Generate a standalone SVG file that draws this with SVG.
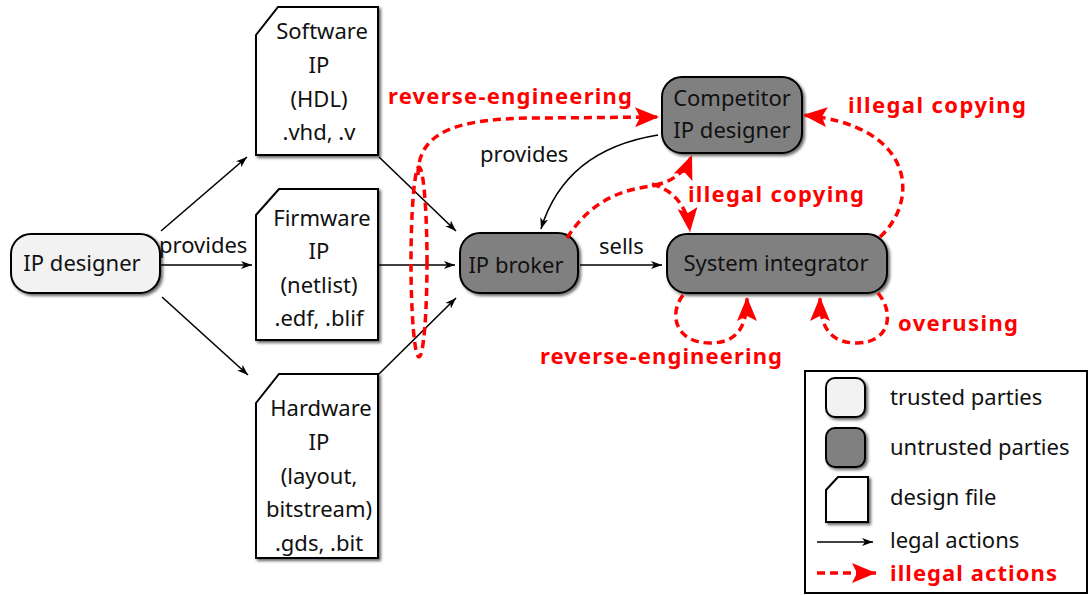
<svg xmlns="http://www.w3.org/2000/svg" width="1090" height="595" viewBox="0 0 1090 595">
<defs>
<filter id="sh" x="-20%" y="-20%" width="140%" height="140%">
<feDropShadow dx="2" dy="2" stdDeviation="1.5" flood-color="#000" flood-opacity="0.6"/>
</filter>
<marker id="ab" markerWidth="12" markerHeight="10" refX="11" refY="5" orient="auto" markerUnits="userSpaceOnUse"><path d="M0,1 L11,5 L0,9 L3,5 z" fill="#000"/></marker>
<marker id="ar" markerWidth="26" markerHeight="20" refX="24" refY="10" orient="auto" markerUnits="userSpaceOnUse"><path d="M0,0 L24,10 L0,20 L5,10 z" fill="#ff0000"/></marker>
</defs>
<style>
.t{font-family:"Noto Sans","DejaVu Sans",sans-serif;font-size:22px;fill:#111;text-anchor:middle}
.l{font-family:"Noto Sans","DejaVu Sans",sans-serif;font-size:22px;fill:#111}
.r{font-family:"Noto Sans","DejaVu Sans",sans-serif;font-size:22px;font-weight:bold;fill:#ff0000}
.trusted{fill:#f2f2f2;stroke:#000;stroke-width:2;filter:url(#sh)}
.untrusted{fill:#808080;stroke:#000;stroke-width:2;filter:url(#sh)}
.file{fill:#fff;stroke:#000;stroke-width:2;filter:url(#sh)}
.leg{fill:none;stroke:#000;stroke-width:1.6;marker-end:url(#ab)}
.ill{fill:none;stroke:#ff0000;stroke-width:3.5;stroke-dasharray:8,5}
.illa{fill:none;stroke:#ff0000;stroke-width:3.5;stroke-dasharray:8,5;marker-end:url(#ar)}
</style>
<rect width="1090" height="595" fill="#fff"/>

<g id="ip-designer">
<rect class="trusted" x="11" y="234" width="149" height="59" rx="20"/>
<text class="t" x="82" y="271">IP designer</text>
</g>
<g id="software-ip">
<path class="file" d="M278,7 L378,7 L378,155 L256,155 L256,35 Z"/>
<text class="t" x="322" y="39">Software</text>
<text class="t" x="319" y="73">IP</text>
<text class="t" x="319" y="107">(HDL)</text>
<text class="t" x="319" y="140">.vhd, .v</text>
</g>
<g id="firmware-ip">
<path class="file" d="M279,189 L378,189 L378,340 L256,340 L256,215 Z"/>
<text class="t" x="322" y="226">Firmware</text>
<text class="t" x="319" y="259">IP</text>
<text class="t" x="319" y="293">(netlist)</text>
<text class="t" x="319" y="326">.edf, .blif</text>
</g>
<g id="hardware-ip">
<path class="file" d="M279,374 L378,374 L378,558 L256,558 L256,403 Z"/>
<text class="t" x="321" y="416">Hardware</text>
<text class="t" x="319" y="450">IP</text>
<text class="t" x="319" y="484">(layout,</text>
<text class="t" x="319" y="517">bitstream)</text>
<text class="t" x="319" y="551">.gds, .bit</text>
</g>
<g id="ip-broker">
<rect class="untrusted" x="460" y="233" width="118" height="60" rx="20"/>
<text class="t" x="516" y="273">IP broker</text>
</g>
<g id="competitor">
<rect class="untrusted" x="662" y="77" width="140" height="76" rx="20"/>
<text class="t" x="732" y="106">Competitor</text>
<text class="t" x="732" y="138">IP designer</text>
</g>
<g id="system-integrator">
<rect class="untrusted" x="667" y="234" width="220" height="59" rx="20"/>
<text class="t" x="776" y="271">System integrator</text>
</g>

<g id="connectors">
<line class="leg" x1="161" y1="231" x2="247" y2="157"/>
<line class="leg" x1="160" y1="265" x2="252" y2="265"/>
<line class="leg" x1="162" y1="297" x2="248" y2="375"/>
<line class="leg" x1="379" y1="157" x2="456" y2="231"/>
<line class="leg" x1="379" y1="265" x2="455" y2="265"/>
<line class="leg" x1="379" y1="374" x2="456" y2="298"/>
<line class="leg" x1="580" y1="265" x2="662" y2="265"/>
<path class="leg" d="M658,135 Q565,150 541,229"/>
<text class="l" x="159" y="253">provides</text>
<text class="l" x="599" y="254">sells</text>
<text class="l" x="480" y="162">provides</text>

<ellipse class="ill" cx="419" cy="262" rx="8" ry="95"/>
<path class="illa" d="M418,175 C418,130 460,118 540,118 L659,117"/>
<path class="ill" d="M567,238 C590,202 620,188 662,185"/>
<path class="illa" d="M655,185 Q682,180 692,155"/>
<path class="illa" d="M652,184 Q686,194 690,232"/>
<path class="illa" d="M880,237 C920,200 915,125 803,115"/>
<path class="illa" d="M683,295 C668,315 676,343 710,343 C735,343 747,330 747,297"/>
<path class="illa" d="M878,293 C896,315 888,343 857,343 C832,343 820,330 820,297"/>
<text class="r" x="388" y="104" textLength="244" lengthAdjust="spacing">reverse-engineering</text>
<text class="r" x="848" y="113" textLength="178" lengthAdjust="spacing">illegal copying</text>
<text class="r" x="688" y="202" textLength="176" lengthAdjust="spacing">illegal copying</text>
<text class="r" x="540" y="364" textLength="242" lengthAdjust="spacing">reverse-engineering</text>
<text class="r" x="898" y="331" textLength="120" lengthAdjust="spacing">overusing</text>
</g>

<g id="legend">
<rect x="805" y="371" width="282" height="222" fill="#fff" stroke="#000" stroke-width="2"/>
<rect class="trusted" x="826" y="378" width="39" height="39" rx="9"/>
<text class="l" x="890" y="405">trusted parties</text>
<rect class="untrusted" x="826" y="428" width="39" height="39" rx="9"/>
<text class="l" x="890" y="455">untrusted parties</text>
<path class="file" d="M838,477 L868,477 L868,522 L826,522 L826,490 Z"/>
<text class="l" x="890" y="505">design file</text>
<line class="leg" x1="817" y1="542" x2="873" y2="542"/>
<text class="l" x="890" y="548">legal actions</text>
<line class="illa" x1="817" y1="573" x2="876" y2="573"/>
<text class="r" x="890" y="581" textLength="167" lengthAdjust="spacing">illegal actions</text>
</g>
</svg>
